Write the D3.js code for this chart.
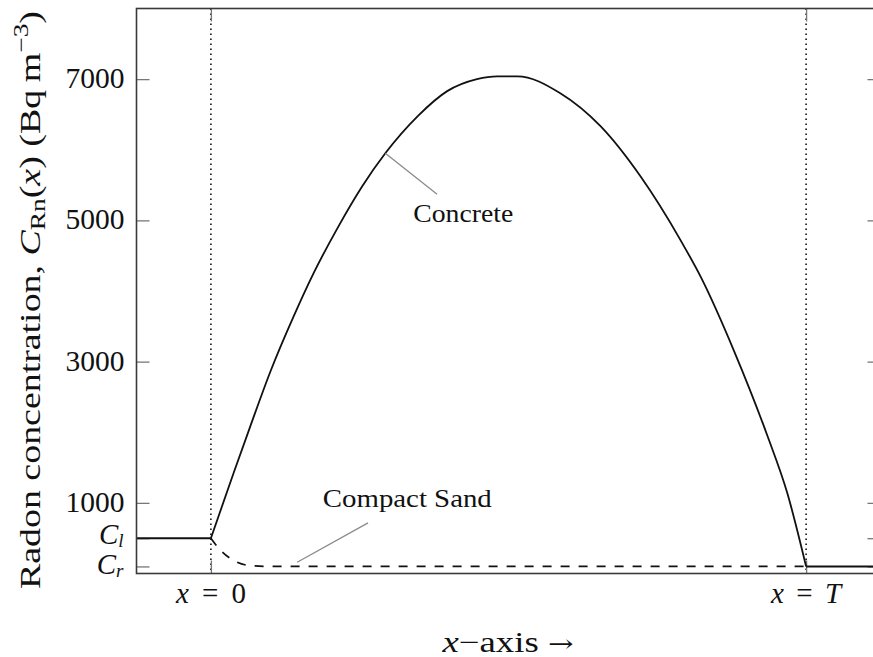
<!DOCTYPE html>
<html>
<head>
<meta charset="utf-8">
<script src="https://cdn.jsdelivr.net/npm/d3@7"></script>
<style>
  body { margin: 0; background: #fff; }
  svg { display: block; }
  text { font-family: "Liberation Serif", "DejaVu Serif", serif; fill: #111; }
</style>
</head>
<body>
<svg id="svg" width="873" height="657"></svg>
<script>
// Concrete profile (x in units of T, C in Bq m^-3)
const concreteX = [0, 0.038, 0.066, 0.1, 0.139, 0.173, 0.212, 0.254, 0.293, 0.348, 0.397, 0.447, 0.481,
  0.515, 0.587, 0.655, 0.722, 0.789, 0.823, 0.879, 0.935, 0.968, 1.0];
const concreteC = [500, 1420, 2080, 2860, 3640, 4260, 4880, 5480, 5950, 6480, 6830, 7000, 7040,
  7040, 6800, 6330, 5620, 4720, 4200, 3150, 1950, 1150, 100];

// Compact sand profile
const sandX = [0, 0.016, 0.035, 0.063, 0.1, 0.3, 0.5, 0.7, 0.9, 1.0];
const sandC = [500, 330, 200, 115, 100, 100, 100, 100, 100, 100];

// Boundary values outside the slab
const leftX = [-0.125, 0];
const leftC = [500, 500];
const rightX = [1, 1.125];
const rightC = [100, 100];

// Axes
const xDomain = [-0.125, 1.125];
const yDomain = [0, 8000];
const yTickValues = [100, 500, 1000, 3000, 5000, 7000];
const yTickLabels = ["C_r", "C_l", "1000", "3000", "5000", "7000"];
const xTickValues = [0, 1];
const xTickLabels = ["0", "T"];

// Annotations (pin anchor on curve, pin end, label position)
const annotLabels = ["Concrete", "Compact Sand"];
const annotWidths = [100, 169];
const annotAnchorX = [0.293, 0.145];
const annotAnchorC = [5950, 160];
const annotEndX = [0.380, 0.264];
const annotEndC = [5371, 716];
const annotTextX = [0.34, 0.188];
const annotTextC = [4979, 942];

const PLOT = { left: 136.5, right: 880.5, top: 8.5, bottom: 573.5 };
const TICK = 13;
const FONT = 29;

const svg = d3.select("#svg");
const x = d3.scaleLinear().domain(xDomain).range([PLOT.left, PLOT.right]);
const y = d3.scaleLinear().domain(yDomain).range([PLOT.bottom, PLOT.top]);
const line = d3.line().x((d) => x(d[0])).y((d) => y(d[1]));
const smooth = d3.line().curve(d3.curveMonotoneX).x((d) => x(d[0])).y((d) => y(d[1]));
const zip = (a, b) => a.map((v, i) => [v, b[i]]);

// Vertical dotted guides at x = 0 and x = T
svg.append("g")
  .selectAll("line")
  .data(xTickValues)
  .enter()
  .append("line")
  .attr("x1", (d) => x(d)).attr("x2", (d) => x(d))
  .attr("y1", PLOT.top).attr("y2", PLOT.bottom)
  .attr("stroke", "#000")
  .attr("stroke-width", 1.5)
  .attr("stroke-dasharray", "1.5,3.5");

// Ticks (inward, mirrored on all four sides)
function styleAxis(g) {
  g.select(".domain").remove();
  g.selectAll(".tick line").attr("stroke", "#777").attr("stroke-width", 1.3);
  g.selectAll(".tick text").remove();
}
svg.append("g").attr("transform", `translate(${PLOT.left},0)`)
  .call(d3.axisLeft(y).tickValues(yTickValues).tickSize(-TICK)).call(styleAxis);
svg.append("g").attr("transform", `translate(${PLOT.right},0)`)
  .call(d3.axisRight(y).tickValues(yTickValues).tickSize(-TICK)).call(styleAxis);
svg.append("g").attr("transform", `translate(0,${PLOT.bottom})`)
  .call(d3.axisBottom(x).tickValues(xTickValues).tickSize(-TICK)).call(styleAxis);
svg.append("g").attr("transform", `translate(0,${PLOT.top})`)
  .call(d3.axisTop(x).tickValues(xTickValues).tickSize(-TICK)).call(styleAxis);

// Curves
svg.append("path")
  .attr("d", smooth(zip(sandX, sandC)))
  .attr("fill", "none").attr("stroke", "#111").attr("stroke-width", 1.7)
  .attr("stroke-dasharray", "9,9");
svg.append("path")
  .attr("d", smooth(zip(concreteX, concreteC)))
  .attr("fill", "none").attr("stroke", "#111").attr("stroke-width", 1.8);
[zip(leftX, leftC), zip(rightX, rightC)].forEach((pts) => {
  svg.append("path")
    .attr("d", line(pts))
    .attr("fill", "none").attr("stroke", "#111").attr("stroke-width", 2);
});

// Frame
svg.append("rect")
  .attr("x", PLOT.left).attr("y", PLOT.top)
  .attr("width", PLOT.right - PLOT.left).attr("height", PLOT.bottom - PLOT.top)
  .attr("fill", "none").attr("stroke", "#3a3a3a").attr("stroke-width", 1.6);

// Y tick labels
yTickLabels.forEach((label, i) => {
  const t = svg.append("text")
    .attr("x", PLOT.left - 12)
    .attr("y", y(yTickValues[i]) + 9)
    .attr("text-anchor", "end")
    .attr("font-size", FONT);
  if (label.startsWith("C_")) {
    t.attr("x", PLOT.left - 13).attr("y", y(yTickValues[i]) + (label === "C_l" ? 6 : 8));
    t.append("tspan").attr("font-style", "italic").text("C");
    t.append("tspan").attr("font-style", "italic").attr("font-size", 19).attr("dy", 3).text(label.slice(2));
  } else {
    t.attr("textLength", 59).attr("lengthAdjust", "spacingAndGlyphs").text(label);
  }
});

// X tick labels
xTickLabels.forEach((label, i) => {
  const t = svg.append("text")
    .attr("x", x(xTickValues[i]))
    .attr("y", 603)
    .attr("text-anchor", "middle")
    .attr("font-size", FONT)
    .attr("textLength", 70)
    .attr("lengthAdjust", "spacing");
  t.append("tspan").attr("font-style", "italic").text("x");
  t.append("tspan").text(" = ");
  t.append("tspan").attr("font-style", label === "T" ? "italic" : "normal").text(label);
});

// Axis titles
const xt = svg.append("text")
  .attr("x", 508).attr("y", 652)
  .attr("text-anchor", "middle")
  .attr("font-size", FONT)
  .attr("textLength", 131)
  .attr("lengthAdjust", "spacingAndGlyphs");
xt.append("tspan").attr("font-style", "italic").text("x");
xt.append("tspan").text("\u2212axis ");
xt.append("tspan").attr("font-family", "DejaVu Serif").attr("font-size", 24).text("\u2192");

const yt = svg.append("text")
  .attr("transform", "translate(40,300) rotate(-90)")
  .attr("text-anchor", "middle")
  .attr("font-size", FONT)
  .attr("textLength", 578)
  .attr("lengthAdjust", "spacingAndGlyphs");
yt.append("tspan").text("Radon concentration, ");
yt.append("tspan").attr("font-style", "italic").text("C");
yt.append("tspan").attr("font-size", 21).attr("dy", 5).text("Rn");
yt.append("tspan").attr("dy", -5).text("(");
yt.append("tspan").attr("font-style", "italic").text("x");
yt.append("tspan").text(") (Bq\u2009m");
yt.append("tspan").attr("font-size", 21).attr("dy", -12).text("\u22123");
yt.append("tspan").attr("dy", 12).text(")");

// Annotations with pins
annotLabels.forEach((label, i) => {
  svg.append("line")
    .attr("x1", x(annotAnchorX[i])).attr("y1", y(annotAnchorC[i]))
    .attr("x2", x(annotEndX[i])).attr("y2", y(annotEndC[i]))
    .attr("stroke", "#8a8a8a").attr("stroke-width", 1.3);
  svg.append("text")
    .attr("x", x(annotTextX[i])).attr("y", y(annotTextC[i]))
    .attr("font-size", 26)
    .attr("textLength", annotWidths[i])
    .attr("lengthAdjust", "spacingAndGlyphs")
    .text(label);
});
</script>
</body>
</html>
